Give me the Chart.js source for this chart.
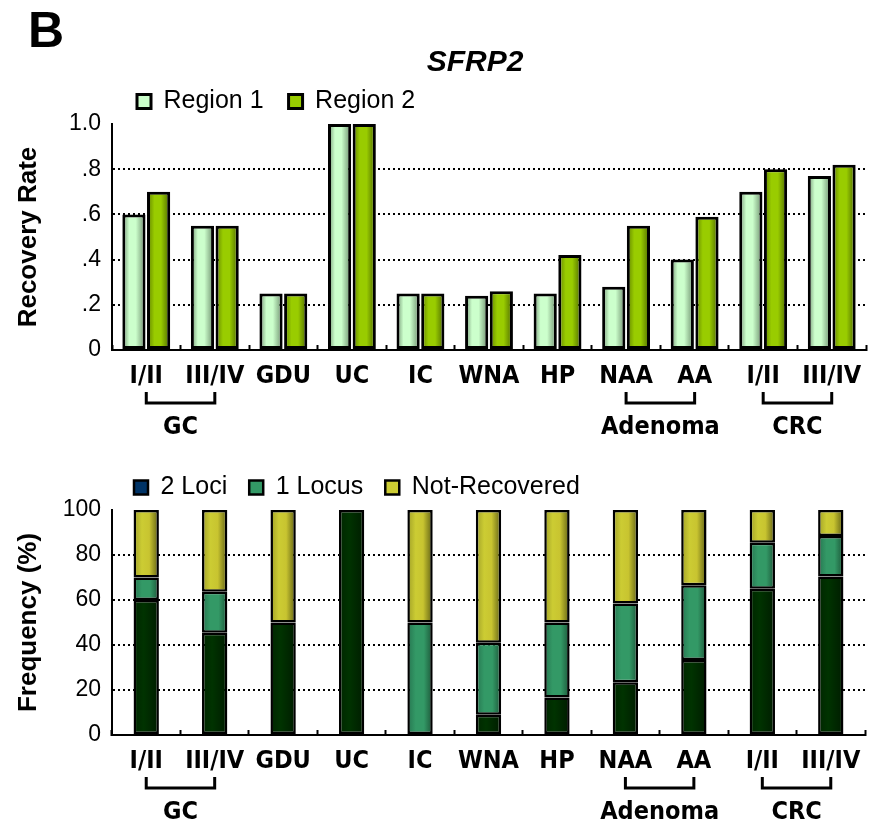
<!DOCTYPE html>
<html>
<head>
<meta charset="utf-8">
<script src="https://cdn.jsdelivr.net/npm/chart.js@4"></script>
<style>
  body { margin: 0; background: #fff; font-family: 'Liberation Sans', Arial, sans-serif; }
  #wrap { position: relative; width: 880px; height: 828px; }
  canvas { display: block; }
  .panel { position: absolute; left: 28px; top: 1px; font-size: 50px; font-weight: bold; }
  .gene { position: absolute; left: 0; width: 950px; text-align: center; top: 44px; font-size: 30px; font-weight: bold; font-style: italic; }
</style>
</head>
<body>
<div id="wrap">
  <canvas id="recoveryChart" width="880" height="440"></canvas>
  <canvas id="freqChart" width="880" height="388"></canvas>
  <div class="panel">B</div>
  <div class="gene">SFRP2</div>
</div>
<script>
const categories = ['I/II', 'III/IV', 'GDU', 'UC', 'IC', 'WNA', 'HP', 'NAA', 'AA', 'I/II', 'III/IV'];

const region1 = [0.60, 0.55, 0.25, 1.00, 0.25, 0.24, 0.25, 0.28, 0.40, 0.70, 0.77];
const region2 = [0.70, 0.55, 0.25, 1.00, 0.25, 0.26, 0.42, 0.55, 0.59, 0.80, 0.82];

const loci2 = [60, 45.5, 50, 100, 0, 9, 16.7, 23.5, 33.3, 65, 70.5];
const locus1 = [10, 18.2, 0, 0, 50, 32, 33.3, 35, 33.3, 20.5, 18];
const notRecovered = [30, 36.3, 50, 0, 50, 59, 50, 41.5, 33.4, 14.5, 11.5];

const rateTicks = ['0', '.2', '.4', '.6', '.8', '1.0'];
const freqTicks = ['0', '20', '40', '60', '80', '100'];

const groupLabels = ['GC', 'Adenoma', 'CRC'];
const groupStart = [0, 7, 9];
const groupEnd = [1, 8, 10];

Chart.defaults.font.family = "'Liberation Sans', Arial, sans-serif";
Chart.defaults.color = '#000';

const labelFont = { family: "'Liberation Sans Narrow', 'DejaVu Sans Condensed', sans-serif", size: 25, weight: 'bold' };

// horizontal shading on each bar, like the old 3D excel look
const shadePlugin = {
  id: 'shade',
  beforeDatasetsDraw(chart) {
    const ctx = chart.ctx;
    chart.data.datasets.forEach((ds, i) => {
      chart.getDatasetMeta(i).data.forEach(bar => {
        const left = bar.x - bar.width / 2;
        const g = ctx.createLinearGradient(left, 0, left + bar.width, 0);
        ds.shade.forEach(s => g.addColorStop(s[0], s[1]));
        bar.options.backgroundColor = g;
      });
    });
  }
};

// brackets + group names under the x labels
const groupPlugin = {
  id: 'groups',
  afterDraw(chart) {
    const ctx = chart.ctx;
    const x = chart.scales.x;
    const base = chart.chartArea.bottom;
    ctx.save();
    ctx.strokeStyle = '#000';
    ctx.lineWidth = 3;
    ctx.fillStyle = '#000';
    ctx.font = `bold ${labelFont.size}px ${labelFont.family}`;
    ctx.textAlign = 'center';
    ctx.textBaseline = 'middle';
    groupLabels.forEach((name, i) => {
      const x1 = x.getPixelForValue(groupStart[i]);
      const x2 = x.getPixelForValue(groupEnd[i]);
      ctx.beginPath();
      ctx.moveTo(x1, base + 42);
      ctx.lineTo(x1, base + 53);
      ctx.lineTo(x2, base + 53);
      ctx.lineTo(x2, base + 42);
      ctx.stroke();
      ctx.fillText(name, (x1 + x2) / 2, base + 77);
    });
    ctx.restore();
  }
};

function yAxis(max, step, tickLabels, title) {
  return {
    min: 0,
    max: max,
    afterFit: s => { s.width = 112; },
    ticks: {
      stepSize: step,
      padding: 11,
      font: { size: 23 },
      callback: (v, i) => tickLabels[i]
    },
    grid: {
      drawTicks: false,
      lineWidth: 2,
      color: c => (c.index === 0 || c.index === tickLabels.length - 1) ? 'rgba(0,0,0,0)' : '#000'
    },
    border: { display: true, color: '#000', width: 2, dash: [2, 3] },
    title: {
      display: true,
      text: title,
      font: { size: 26, weight: 'bold' },
      padding: { top: 13, bottom: 0 }
    }
  };
}

const xAxis = {
  afterFit: s => { s.height = 40; },
  ticks: { font: labelFont, padding: 16, maxRotation: 0, minRotation: 0, autoSkip: false },
  grid: {
    offset: true,
    drawOnChartArea: false,
    drawTicks: true,
    tickLength: -5,
    tickWidth: 2,
    tickColor: '#000'
  },
  border: { display: true, color: '#000', width: 2 }
};

const legendLabels = { boxWidth: 14, boxHeight: 14, padding: 25, font: { size: 25 } };

new Chart(document.getElementById('recoveryChart'), {
  type: 'bar',
  data: {
    labels: categories,
    datasets: [{
      label: 'Region 1',
      data: region1,
      backgroundColor: () => '#ccffcc',
      shade: [[0, '#6f906f'], [0.3, '#ccffcc'], [0.58, '#ccffcc'], [1, '#6a8a6a']],
      borderColor: '#000',
      borderWidth: 3,
      borderSkipped: false
    }, {
      label: 'Region 2',
      data: region2,
      backgroundColor: () => '#99cc00',
      shade: [[0, '#5f8000'], [0.32, '#99cc00'], [0.6, '#99cc00'], [1, '#4b6600']],
      borderColor: '#000',
      borderWidth: 3,
      borderSkipped: false
    }]
  },
  options: {
    responsive: false,
    animation: false,
    layout: { padding: { top: 64, right: 14, bottom: 50, left: 0 } },
    datasets: { bar: { categoryPercentage: 0.72, barPercentage: 0.94 } },
    plugins: {
      legend: { position: 'top', align: 'start', fullSize: false, labels: legendLabels },
      tooltip: { enabled: false }
    },
    scales: {
      x: xAxis,
      y: yAxis(1, 0.2, rateTicks, 'Recovery Rate')
    }
  },
  plugins: [shadePlugin, groupPlugin]
});

new Chart(document.getElementById('freqChart'), {
  type: 'bar',
  data: {
    labels: categories,
    datasets: [{
      label: '2 Loci',
      data: loci2,
      backgroundColor: () => '#003300',
      shade: [[0, '#002600'], [0.4, '#003300'], [1, '#001c00']],
      borderColor: '#000',
      borderWidth: 2.5,
      borderSkipped: false
    }, {
      label: '1 Locus',
      data: locus1,
      backgroundColor: () => '#339966',
      shade: [[0, '#267550'], [0.33, '#339966'], [0.65, '#339966'], [1, '#1c5538']],
      borderColor: '#000',
      borderWidth: 2.5,
      borderSkipped: false
    }, {
      label: 'Not-Recovered',
      data: notRecovered,
      backgroundColor: () => '#cccc33',
      shade: [[0, '#a0a028'], [0.33, '#cccc33'], [0.62, '#c8c430'], [1, '#5f5f14']],
      borderColor: '#000',
      borderWidth: 2.5,
      borderSkipped: false
    }]
  },
  options: {
    responsive: false,
    animation: false,
    layout: { padding: { top: 13, right: 15, bottom: 53, left: 0 } },
    datasets: { bar: { categoryPercentage: 1, barPercentage: 0.37 } },
    plugins: {
      legend: {
        position: 'top',
        align: 'start',
        fullSize: false,
        labels: {
          ...legendLabels,
          padding: 22,
          generateLabels: chart => {
            const items = Chart.defaults.plugins.legend.labels.generateLabels(chart);
            items[0].fillStyle = '#003366';
            return items;
          }
        }
      },
      tooltip: { enabled: false }
    },
    scales: {
      x: { ...xAxis, stacked: true },
      y: { ...yAxis(100, 20, freqTicks, 'Frequency (%)'), stacked: true }
    }
  },
  plugins: [shadePlugin, groupPlugin]
});
</script>
</body>
</html>
